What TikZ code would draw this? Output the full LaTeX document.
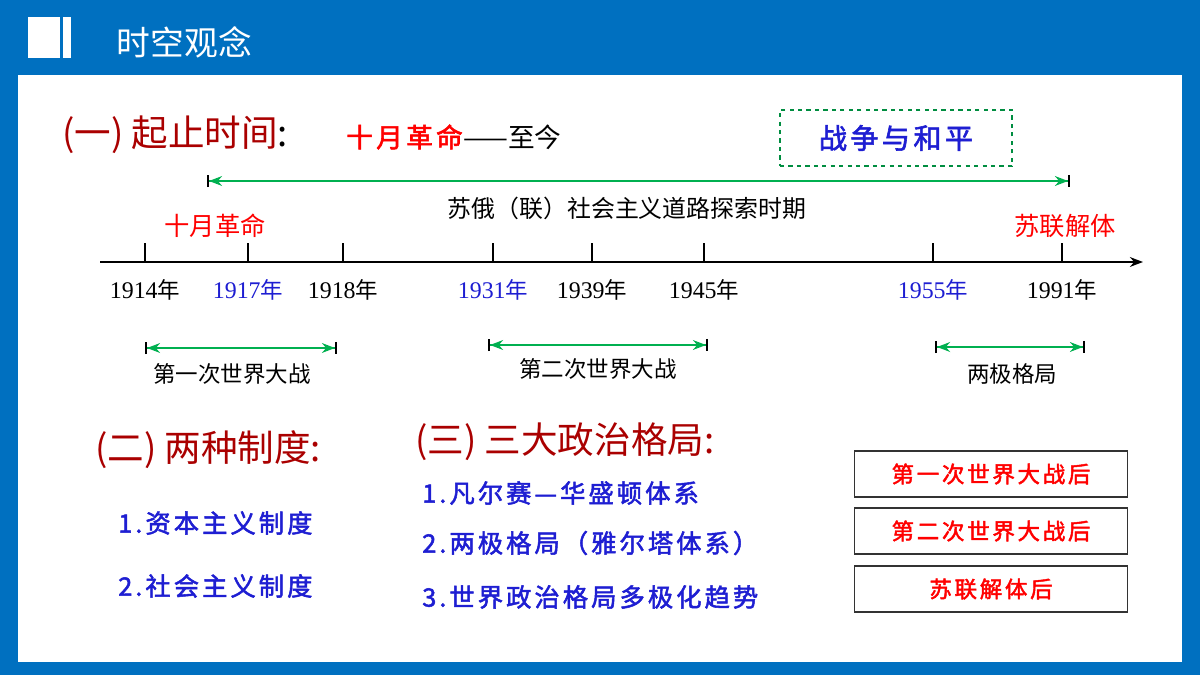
\documentclass[tikz,border=0pt]{standalone}
\usepackage{fontspec}
\setmainfont{Noto Sans CJK SC}
\newfontfamily\cjkb[FakeBold=2,LetterSpace=12]{Noto Sans CJK SC}
\newfontfamily\yearfont{Liberation Serif}
\usetikzlibrary{arrows.meta, positioning}
\definecolor{hdblue}{RGB}{0,112,192}
\definecolor{dkred}{RGB}{170,0,0}
\definecolor{arrgreen}{RGB}{0,176,80}
\definecolor{itemblue}{RGB}{30,30,210}

\begin{document}
\begin{tikzpicture}[x=0.025cm, y=-0.025cm, >=Stealth]
    \tikzset{year/.style = {font=\fontsize{16}{16}\selectfont, inner sep=1pt}}
    \tikzset{span/.style = {draw=arrgreen, line width=1.4pt, {Bar[black]Stealth[arrgreen]}-{Stealth[arrgreen]Bar[black]}}}
    \tikzset{lbl/.style = {font=\fontsize{16}{16}\selectfont, inner sep=1pt}}
    \tikzset{head/.style = {text=dkred, font=\fontsize{26}{26}\selectfont, anchor=west, inner sep=0pt}}
    \tikzset{item/.style = {text=itemblue, font=\cjkb\fontsize{18}{18}\selectfont, anchor=west, inner sep=0pt}}
    \tikzset{afterbox/.style = {draw=black!80, line width=1.2pt, text=red, font=\cjkb\fontsize{16}{16}\selectfont, minimum width=273*0.025cm, minimum height=46*0.025cm}}

    % Frame and header
    \fill[hdblue] (0,0) rectangle (1200,675);
    \fill[white] (18,75) rectangle (1182,662);
    \fill[white] (28,17) rectangle (60,58);
    \fill[white] (63,17) rectangle (71,58);
    \node[anchor=west, text=white, font=\fontsize{24}{24}\selectfont] (title) at (112,42) {时空观念};

    % Part one heading
    \node[head] (h1) at (62,135) {(一) 起止时间\textcolor{black}{:}};
    \node[anchor=west, text=red, font=\cjkb\fontsize{19}{19}\selectfont, inner sep=0pt] (oct) at (346,137) {十月革命};
    \node[anchor=west, font=\fontsize{19}{19}\selectfont, inner sep=0pt] (now) at (oct.east) {——至今};
    \node[draw=arrgreen!80!black, dashed, line width=1pt, minimum width=232*0.025cm, minimum height=56*0.025cm, text=itemblue, font=\cjkb\fontsize{20}{20}\selectfont] (war) at (896,138) {战争与和平};

    % Main timeline
    \coordinate (axL) at (100,262);
    \coordinate (axR) at (1143,262);
    \draw[line width=1.4pt, ->] (axL) -- (axR);
    \foreach \x/\yr/\c in {145/1914/black, 248/1917/itemblue, 343/1918/black, 493/1931/itemblue,
                           592/1939/black, 704/1945/black, 933/1955/itemblue, 1062/1991/black} {
        \draw[line width=1.4pt] (\x,243) -- (\x,262);
        \node[year, text=\c] (y\yr) at (\x,290) {{\yearfont\fontsize{17}{17}\selectfont\yr}年};
    }
    \node[lbl, text=red, font=\fontsize{18}{18}\selectfont] (octlbl) at (215,226) {十月革命};
    \node[lbl, text=red, font=\fontsize{18}{18}\selectfont] (ussr) at (1065,226) {苏联解体};

    % Spans
    \coordinate (sA) at (207,181);
    \coordinate (sB) at (1070,181);
    \draw[span] (sA) -- (sB);
    \node[lbl, font=\fontsize{17}{17}\selectfont] (soviet) at (627,208) {苏俄（联）社会主义道路探索时期};

    \coordinate (w1a) at (145,348);
    \coordinate (w1b) at (337,348);
    \draw[span] (w1a) -- (w1b);
    \node[lbl] (ww1) at (232,374) {第一次世界大战};

    \coordinate (w2a) at (488,345);
    \coordinate (w2b) at (708,345);
    \draw[span] (w2a) -- (w2b);
    \node[lbl] (ww2) at (598,369) {第二次世界大战};

    \coordinate (cwa) at (935,347);
    \coordinate (cwb) at (1085,347);
    \draw[span] (cwa) -- (cwb);
    \node[lbl] (cold) at (1012,374) {两极格局};

    % Part two and three
    \node[head] (h2) at (95,450) {(二) 两种制度:};
    \node[head] (h3) at (415,442) {(三) 三大政治格局:};
    \node[item] (cap) at (118,523) {1.资本主义制度};
    \node[item] (soc) at (118,586) {2.社会主义制度};
    \node[item] (vw) at (422,493) {1.凡尔赛—华盛顿体系};
    \node[item] (yal) at (422,543) {2.两极格局（雅尔塔体系）};
    \node[item] (multi) at (422,597) {3.世界政治格局多极化趋势};

    % Period boxes
    \node[afterbox] (after1) at (991,474) {第一次世界大战后};
    \node[afterbox] (after2) at (991,531) {第二次世界大战后};
    \node[afterbox] (after3) at (991,589) {苏联解体后};
\end{tikzpicture}
\end{document}
